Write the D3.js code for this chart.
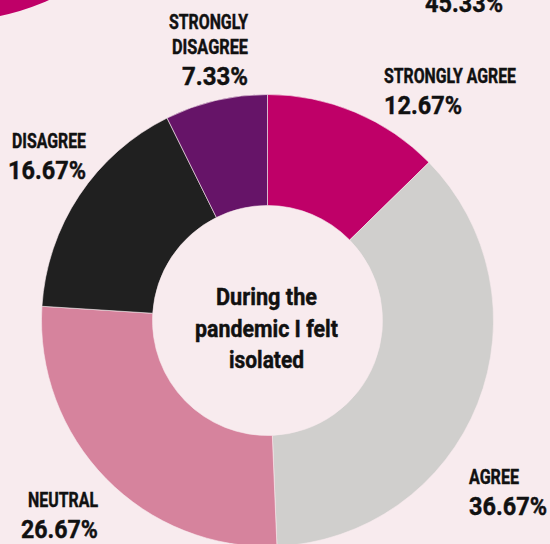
<!DOCTYPE html>
<html>
<head>
<meta charset="utf-8">
<script src="https://cdn.jsdelivr.net/npm/d3@7"></script>
<style>
  html, body { margin: 0; padding: 0; background: #f8ebee; }
  svg { display: block; }
  text { font-family: Roboto, "Open Sans", "DejaVu Sans Condensed", sans-serif; font-weight: bold; fill: #111; stroke: #111; stroke-width: 0.45px; }
</style>
</head>
<body>
<div id="chart"></div>
<script>
    "use strict";

    // answers, clockwise from 12 o'clock
    const categories = ["STRONGLY AGREE", "AGREE", "NEUTRAL", "DISAGREE", "STRONGLY DISAGREE"];
    const values = [12.67, 36.67, 26.67, 16.67, 7.33];
    const colors = ["#bf0068", "#d0cfcd", "#d6839d", "#202020", "#661468"];
    const centerTitle = ["During the", "pandemic I felt", "isolated"];
    const neighbourValue = 45.33;

    // label layout per slice (lines, anchor, x, baseline of first line, widths of each line + percent)
    const labelSpots = [
        { lines: ["STRONGLY AGREE"], anchor: "start", x: 384, y: 83, w: [132, 78] },
        { lines: ["AGREE"], anchor: "start", x: 469, y: 484, w: [50, 78] },
        { lines: ["NEUTRAL"], anchor: "end", x: 98, y: 507, w: [70, 77] },
        { lines: ["DISAGREE"], anchor: "end", x: 86, y: 148, w: [74, 78] },
        { lines: ["STRONGLY", "DISAGREE"], anchor: "end", x: 248, y: 29, w: [79, 76, 66] }
    ];
    const titleWidths = [101, 143, 75];

    const width = 550, height = 544;
    const cx = 267.5, cy = 320.5;
    const outerR = 226, innerR = 115;

    let svg = d3.select("#chart").append("svg").attr("width", width).attr("height", height);
    svg.append("rect").attr("width", width).attr("height", height).attr("fill", "#f8ebee");

    let addText = (parent, str, x, y, size, anchor, w) => {
        return parent.append("text")
            .attr("x", x).attr("y", y)
            .attr("text-anchor", anchor)
            .attr("textLength", w)
            .attr("lengthAdjust", "spacingAndGlyphs")
            .style("font-size", size + "px")
            .text(str);
    };

    // bits of the neighbouring chart that spill into the frame
    svg.append("path")
        .attr("transform", "translate(-45,-205.5)")
        .attr("d", d3.arc().innerRadius(innerR).outerRadius(outerR).startAngle(0).endAngle(2 * Math.PI)())
        .attr("fill", colors[0]);
    addText(svg, neighbourValue.toFixed(2) + "%", 425, 12, 26.5, "start", 78);

    let pie = d3.pie().sort(null).value((d) => d);
    let arc = d3.arc().innerRadius(innerR).outerRadius(outerR);

    let g = svg.append("g").attr("transform", `translate(${cx},${cy})`);
    g.selectAll("path")
        .data(pie(values))
        .enter()
        .append("path")
        .attr("d", arc)
        .attr("fill", (d, i) => colors[i])
        .attr("stroke", "#f8ebee")
        .attr("stroke-width", 0.6);

    // centre title
    centerTitle.forEach((line, i) => {
        addText(g, line, -1, -15.5 + i * 31.5, 24, "middle", titleWidths[i]);
    });

    // slice labels
    labelSpots.forEach((spot, i) => {
        spot.lines.forEach((line, j) => {
            addText(svg, line, spot.x, spot.y + j * 25, 19.7, spot.anchor, spot.w[j]);
        });
        let n = spot.lines.length;
        addText(svg, values[i].toFixed(2) + "%", spot.x, spot.y + (n - 1) * 25 + 31, 26.5, spot.anchor, spot.w[n]);
    });
</script>
</body>
</html>
